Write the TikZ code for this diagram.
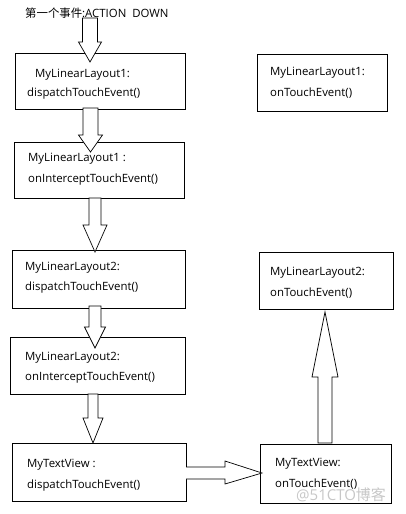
\documentclass[tikz,border=0pt]{standalone}
\usepackage{fontspec}
\setmainfont{Open Sans}
\newfontfamily\cjk{Noto Sans CJK SC}
\newcommand\vblock[6]{% cx, top, headbase, tip, shaft half, head half
  \draw[blk] ({#1-#5},#2) -- ({#1-#5},#3) -- ({#1-#6},#3) -- (#1,#4) -- ({#1+#6},#3) -- ({#1+#5},#3) -- ({#1+#5},#2) -- cycle;}
\begin{document}
\begin{tikzpicture}[x=1pt,y=-1pt,
  box/.style={draw, line width=0.8pt, anchor=north west, inner sep=0},
  lbl/.style={anchor=west, inner sep=0, font=\fontsize{11.4}{13}\selectfont},
  blk/.style={draw, fill=white, line width=0.7pt, line join=miter}]
\useasboundingbox (0,0) rectangle (405,514);
% boxes
\node[box, minimum width=170, minimum height=56] (b1) at (15,53) {};
\node[box, minimum width=170, minimum height=56] (b2) at (14,142) {};
\node[box, minimum width=173, minimum height=58] (b3) at (12,250) {};
\node[box, minimum width=175, minimum height=57] (b4) at (10,337) {};
\node[box, minimum width=174, minimum height=58] (b5) at (12,443) {};
\node[box, minimum width=131, minimum height=59] (b6) at (260,444) {};
\node[box, minimum width=134, minimum height=57] (b7) at (259,252) {};
\node[box, minimum width=130, minimum height=57] (b8) at (257,54) {};
% block arrows
\vblock{90}{18}{42}{62}{7.5}{11.5}
\vblock{90.5}{108}{135}{152}{7.5}{12}
\vblock{95}{198}{225}{252}{6}{12}
\vblock{95}{306}{327}{348}{6}{10.5}
\vblock{93}{394}{418}{443}{5}{10}
\draw[blk] (186,467) -- (225,467) -- (225,461) -- (262,473) -- (225,484) -- (225,479) -- (186,479);
\draw[blk] (318,443) -- (318,377) -- (312,377) -- (325,312) -- (338,377) -- (332,377) -- (332,443) -- cycle;
% labels
\node[lbl] (title) at (25,13) {{\cjk 第一个事件}:ACTION\ \ DOWN};
\node[lbl] (t1a) at (35,75) {MyLinearLayout1:};
\node[lbl] (t1b) at (27,94) {dispatchTouchEvent()};
\node[lbl] (t2a) at (28,159) {MyLinearLayout1 :};
\node[lbl] (t2b) at (28,180) {onInterceptTouchEvent()};
\node[lbl] (t3a) at (25,268) {MyLinearLayout2:};
\node[lbl] (t3b) at (25,288) {dispatchTouchEvent()};
\node[lbl] (t4a) at (25,358) {MyLinearLayout2:};
\node[lbl] (t4b) at (25,378) {onInterceptTouchEvent()};
\node[lbl] (t5a) at (27,465) {MyTextView :};
\node[lbl] (t5b) at (27,486) {dispatchTouchEvent()};
\node[lbl] (t6a) at (275,464) {MyTextView:};
\node[lbl] (t6b) at (275,484) {onTouchEvent()};
\node[lbl] (t7a) at (270,273) {MyLinearLayout2:};
\node[lbl] (t7b) at (270,293) {onTouchEvent()};
\node[lbl] (t8a) at (270,73) {MyLinearLayout1:};
\node[lbl] (t8b) at (270,93) {onTouchEvent()};
\node[lbl, font=\fontsize{15}{17}\selectfont, text=black!22] (wm) at (296,495) {@51CTO{\cjk 博客}};
\end{tikzpicture}
\end{document}
